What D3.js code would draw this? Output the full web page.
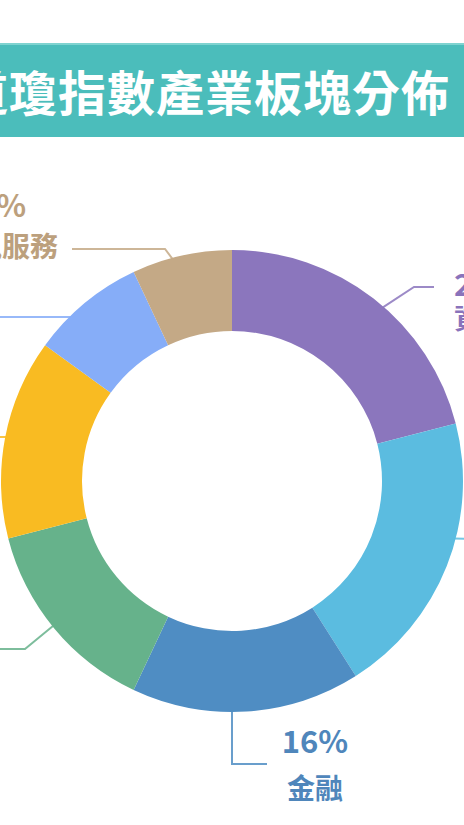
<!DOCTYPE html>
<html>
<head>
<meta charset="utf-8">
<script src="https://cdn.jsdelivr.net/npm/d3@7"></script>
<style>
html,body{margin:0;padding:0;background:#fff;overflow:hidden;}
svg{display:block;}
</style>
</head>
<body>
<svg id="chart" width="464" height="825"></svg>
<script>
// ---- data ----
const title = "道瓊指數產業板塊分佈";
const categories = ["資訊科技", "醫療保健", "金融", "工業", "非必需消費", "必需消費", "通訊服務"];
const values = [21, 20, 16, 14, 14, 8, 7];

// ---- styles ----
const sliceColors = ["#8b76bd", "#5bbce0", "#4f8dc3", "#66b28b", "#f9bb22", "#86adf8", "#c4a986"];
const textColors  = ["#8a73bb", "#4fb0d6", "#4f86bb", "#5ea682", "#e9ab16", "#7aa0ea", "#bca07d"];

const W = 464, H = 825;
const cx = 232, cy = 481, R = 231, r = 150;

const svg = d3.select("#chart");

// title banner
svg.append("rect").attr("x", 0).attr("y", 43).attr("width", W).attr("height", 94).attr("fill", "#4bbdbb");
svg.append("rect").attr("x", 0).attr("y", 43).attr("width", W).attr("height", 2).attr("fill", "#7fd3d0");
svg.append("text")
  .attr("x", 450).attr("y", 90)
  .attr("text-anchor", "end")
  .attr("dominant-baseline", "central")
  .attr("fill", "#ffffff")
  .attr("font-family", "'Noto Sans CJK TC', 'Noto Sans CJK SC', sans-serif")
  .attr("font-weight", 700)
  .attr("font-size", 48)
  .attr("letter-spacing", 1)
  .text(title);

// donut
const pie = d3.pie().sort(null).value(d => d).startAngle(0).endAngle(2 * Math.PI);
const arcs = pie(values);
const arc = d3.arc().innerRadius(r).outerRadius(R);

const g = svg.append("g").attr("transform", `translate(${cx},${cy})`);
g.selectAll("path.slice")
  .data(arcs)
  .join("path")
  .attr("class", "slice")
  .attr("d", arc)
  .attr("fill", (d, i) => sliceColors[i]);

// label layout (degrees clockwise from top for leader start, then elbow / end points, text placement)
const layout = [
  { a: 41,    elbow: [414, 287], end: [434, 287], tx: 454, anchor: "start",  pctY: 296, catY: 329 },
  { a: 104.5, elbow: [472, 539], end: [490, 539], tx: 500, anchor: "start",  pctY: 530, catY: 563 },
  { a: 180,   elbow: [232, 764], end: [267, 764], tx: 315, anchor: "middle", pctY: 753, catY: 799 },
  { a: 231,   elbow: [25, 649],  end: [-20, 649], tx: -60, anchor: "end",    pctY: 630, catY: 673 },
  { a: 281,   elbow: [-10, 437], end: [-30, 437], tx: -60, anchor: "end",    pctY: 418, catY: 461 },
  { a: 315.5, elbow: [20, 317],  end: [-30, 317], tx: -60, anchor: "end",    pctY: 298, catY: 340 },
  { a: 345,   elbow: [165, 249], end: [72, 249],  tx: 2,   anchor: "middle", pctY: 217, catY: 257 }
];

const labels = svg.append("g");
arcs.forEach((d, i) => {
  const L = layout[i];
  const ang = L.a * Math.PI / 180;
  const sx = cx + (R - 1) * Math.sin(ang);
  const sy = cy - (R - 1) * Math.cos(ang);
  labels.append("path")
    .attr("d", d3.line()([[sx, sy], L.elbow, L.end]))
    .attr("fill", "none")
    .attr("stroke", sliceColors[i])
    .attr("stroke-opacity", 0.85)
    .attr("stroke-width", 2);
  labels.append("text")
    .attr("x", L.tx).attr("y", L.pctY)
    .attr("text-anchor", L.anchor)
    .attr("fill", textColors[i])
    .attr("font-family", "'Noto Sans CJK TC', 'Noto Sans CJK SC', sans-serif")
    .attr("font-weight", 700)
    .attr("font-size", 31)
    .text(values[i] + "%");
  labels.append("text")
    .attr("x", L.tx).attr("y", L.catY)
    .attr("text-anchor", L.anchor)
    .attr("fill", textColors[i])
    .attr("font-family", "'Noto Sans CJK TC', 'Noto Sans CJK SC', sans-serif")
    .attr("font-weight", 700)
    .attr("font-size", 28)
    .text(categories[i]);
});
</script>
</body>
</html>
